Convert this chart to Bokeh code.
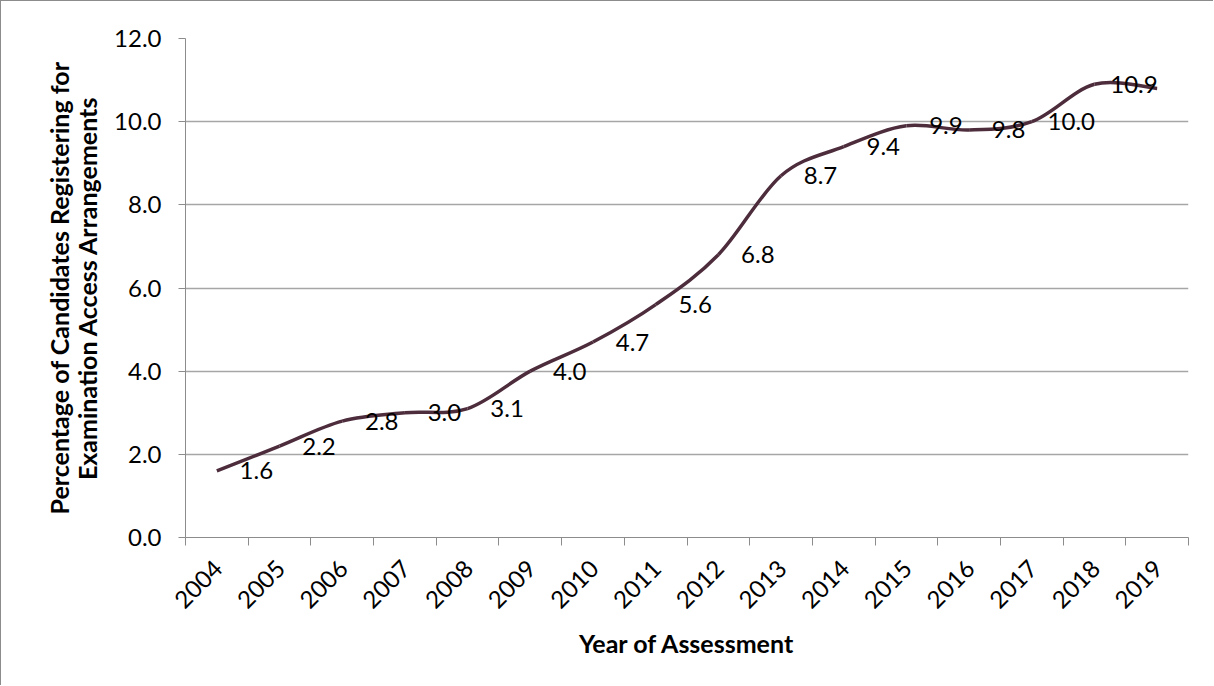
import math
from bokeh.plotting import figure
from bokeh.models import FixedTicker, ColumnDataSource, Range1d, NumeralTickFormatter
from bokeh.embed import file_html
from bokeh.resources import INLINE
from bokeh.core.properties import value

# ---- data ----
years = ["2004", "2005", "2006", "2007", "2008", "2009", "2010", "2011",
         "2012", "2013", "2014", "2015", "2016", "2017", "2018", "2019"]
line_values = [1.6, 2.2, 2.8, 3.0, 3.1, 4.0, 4.7, 5.6, 6.8, 8.7, 9.4, 9.9,
               9.8, 10.0, 10.9, 10.8]
label_texts = ["1.6", "2.2", "2.8", "3.0", "3.1", "4.0", "4.7", "5.6", "6.8",
               "8.7", "9.4", "9.9", "9.8", "10.0", "10.9"]
label_values = [1.6, 2.2, 2.8, 3.0, 3.1, 4.0, 4.7, 5.6, 6.8, 8.7, 9.4, 9.9,
                9.8, 10.0, 10.9]
y_ticks = [0, 2, 4, 6, 8, 10, 12]

FONT = "Lato"
GRID = "#a6a6a6"
AXIS = "#8c8c8c"
LINE = "#4d2c3c"

n = len(years)
xs = [i + 0.5 for i in range(n)]

p = figure(width=1213, height=685, output_backend="svg", toolbar_location=None,
           x_range=Range1d(0, n), y_range=Range1d(0, 12),
           min_border_left=184, min_border_right=26, min_border_top=37,
           min_border_bottom=149)
p.styles = {"border-top": "1px solid #8c8c8c", "border-left": "1px solid #8c8c8c"}
p.outline_line_color = None
p.background_fill_color = "white"
p.border_fill_color = "white"

# smoothed line (Catmull-Rom style Bezier segments, like Excel's smoothing)
P = list(zip(xs, line_values))
x0, y0, x1, y1, cx0, cy0, cx1, cy1 = [], [], [], [], [], [], [], []
for i in range(n - 1):
    pm = P[i - 1] if i > 0 else P[i]
    pa = P[i]
    pb = P[i + 1]
    pn = P[i + 2] if i + 2 < n else P[i + 1]
    x0.append(pa[0]); y0.append(pa[1])
    x1.append(pb[0]); y1.append(pb[1])
    cx0.append(pa[0] + (pb[0] - pm[0]) / 6.0)
    cy0.append(pa[1] + (pb[1] - pm[1]) / 6.0)
    cx1.append(pb[0] - (pn[0] - pa[0]) / 6.0)
    cy1.append(pb[1] - (pn[1] - pa[1]) / 6.0)
p.bezier(x0=x0, y0=y0, x1=x1, y1=y1, cx0=cx0, cy0=cy0, cx1=cx1, cy1=cy1,
         line_color=LINE, line_width=3.5)

# data labels
lab_src = ColumnDataSource(dict(
    x=[xs[i] + 0.63 for i in range(len(label_texts))],
    y=label_values, t=label_texts))
p.text(x="x", y="y", text="t", source=lab_src, text_font=value(FONT),
       text_font_size="24px", text_align="center", text_baseline="middle",
       text_color="black")

# x axis
tick_pos = [round(i + 0.52, 2) for i in range(n)]
xa = p.xaxis[0]
xa.ticker = FixedTicker(ticks=tick_pos, minor_ticks=list(range(n + 1)))
xa.major_label_overrides = {t: y for t, y in zip(tick_pos, years)}
xa.major_label_orientation = math.pi / 4
xa.major_tick_line_color = None
xa.major_tick_out = 0
xa.major_tick_in = 0
xa.minor_tick_line_color = AXIS
xa.minor_tick_out = 8
xa.minor_tick_in = 0
xa.axis_line_color = AXIS
xa.major_label_standoff = 19
xa.major_label_text_font = FONT
xa.major_label_text_font_size = "24px"
xa.major_label_text_color = "black"
xa.axis_label = "Year of Assessment"
xa.axis_label_text_font = FONT
xa.axis_label_text_font_style = "bold"
xa.axis_label_text_font_size = "25px"
xa.axis_label_text_color = "black"
xa.axis_label_standoff = 9

# y axis
ya = p.yaxis[0]
ya.ticker = FixedTicker(ticks=y_ticks)
ya.formatter = NumeralTickFormatter(format="0.0")
ya.major_tick_line_color = AXIS
ya.major_tick_out = 7
ya.major_tick_in = 0
ya.minor_tick_line_color = None
ya.axis_line_color = AXIS
ya.major_label_standoff = 17
ya.major_label_text_font = FONT
ya.major_label_text_font_size = "24px"
ya.major_label_text_color = "black"
ya.axis_label = "Percentage of Candidates Registering for\nExamination Access Arrangements"
ya.axis_label_text_font = FONT
ya.axis_label_text_font_style = "bold"
ya.axis_label_text_font_size = "25px"
ya.axis_label_text_color = "black"
ya.axis_label_text_line_height = 0.95
ya.axis_label_standoff = 9

p.xgrid.visible = False
p.ygrid.ticker = FixedTicker(ticks=y_ticks)
p.ygrid.grid_line_color = GRID
p.ygrid.grid_line_width = 1.5

open("out.html", "w").write(file_html(p, INLINE))
